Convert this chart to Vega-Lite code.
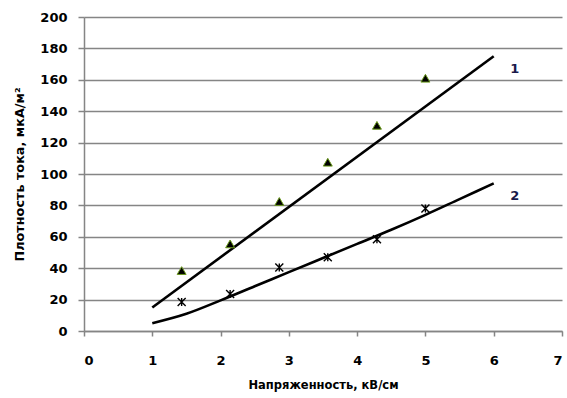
{
  "$schema": "https://vega.github.io/schema/vega-lite/v6.json",
  "width": 478,
  "height": 314,
  "autosize": {"type": "none"},
  "padding": {"left": 84, "top": 17, "right": 5, "bottom": 67},
  "background": "white",
  "config": {
    "view": {"stroke": null},
    "font": "DejaVu Sans",
    "axis": {
      "labelFont": "DejaVu Sans",
      "labelFontWeight": "bold",
      "labelFontSize": 13,
      "labelColor": "#000000",
      "labelOverlap": false,
      "titleFont": "DejaVu Sans",
      "titleFontWeight": "bold",
      "titleFontSize": 11.5,
      "titleColor": "#000000",
      "domainColor": "#858585",
      "domainWidth": 1.5,
      "tickColor": "#858585",
      "tickWidth": 1.5,
      "gridColor": "#858585",
      "gridWidth": 1.5
    }
  },
  "datasets": {
    "tri": [
      {"x": 1.43, "y": 38.5},
      {"x": 2.14, "y": 55.5},
      {"x": 2.86, "y": 82.5},
      {"x": 3.57, "y": 107.5},
      {"x": 4.29, "y": 131},
      {"x": 5.0, "y": 161}
    ],
    "star": [
      {"x": 1.43, "y": 18.5},
      {"x": 2.14, "y": 23.5},
      {"x": 2.86, "y": 40.5},
      {"x": 3.57, "y": 47},
      {"x": 4.29, "y": 58.5},
      {"x": 5.0, "y": 78}
    ],
    "lines": [
      {"series": "1", "x": 1, "y": 15},
      {"series": "1", "x": 6, "y": 175},
      {"series": "2", "x": 1, "y": 5},
      {"series": "2", "x": 1.5, "y": 11},
      {"series": "2", "x": 2, "y": 19.5},
      {"series": "2", "x": 2.5, "y": 28.5},
      {"series": "2", "x": 3, "y": 37.5},
      {"series": "2", "x": 3.5, "y": 46.5},
      {"series": "2", "x": 4, "y": 55.5},
      {"series": "2", "x": 4.5, "y": 64.5},
      {"series": "2", "x": 5, "y": 74},
      {"series": "2", "x": 5.5, "y": 84},
      {"series": "2", "x": 6, "y": 94}
    ],
    "labels": [
      {"x": 6.31, "y": 167, "label": "1"},
      {"x": 6.31, "y": 86, "label": "2"}
    ]
  },
  "encoding": {
    "x": {
      "field": "x", "type": "quantitative",
      "scale": {"domain": [0, 7], "nice": false},
      "axis": {
        "title": "Напряженность, кВ/см",
        "values": [0, 1, 2, 3, 4, 5, 6, 7],
        "format": "d",
        "grid": false,
        "tickSize": 5,
        "labelPadding": 18,
        "titlePadding": 12
      }
    },
    "y": {
      "field": "y", "type": "quantitative",
      "scale": {"domain": [0, 200], "nice": false},
      "axis": {
        "title": "Плотность тока, мкА/м²",
        "titleFontSize": 12.8,
        "values": [0, 20, 40, 60, 80, 100, 120, 140, 160, 180, 200],
        "tickCount": 11,
        "grid": true,
        "tickSize": 6,
        "labelPadding": 11,
        "titlePadding": 13
      }
    }
  },
  "layer": [
    {
      "data": {"name": "lines"},
      "mark": {"type": "line", "color": "#000000", "strokeWidth": 2.6, "interpolate": "monotone"},
      "encoding": {
        "detail": {"field": "series", "type": "nominal"}
      }
    },
    {
      "data": {"name": "tri"},
      "mark": {"type": "point", "shape": "triangle-up", "filled": true, "fill": "#000000", "stroke": "#6b9a1c", "strokeWidth": 1, "size": 80, "opacity": 1}
    },
    {
      "data": {"name": "star"},
      "mark": {"type": "point", "shape": "M-1,-1L1,1M-1,1L1,-1M0,-1L0,1", "filled": false, "stroke": "#000000", "strokeWidth": 1.4, "size": 64, "opacity": 1}
    },
    {
      "data": {"name": "labels"},
      "mark": {"type": "text", "font": "DejaVu Sans", "fontWeight": "bold", "fontSize": 13, "color": "#1a1a4a", "baseline": "middle", "align": "center"},
      "encoding": {
        "text": {"field": "label", "type": "nominal"}
      }
    }
  ]
}
